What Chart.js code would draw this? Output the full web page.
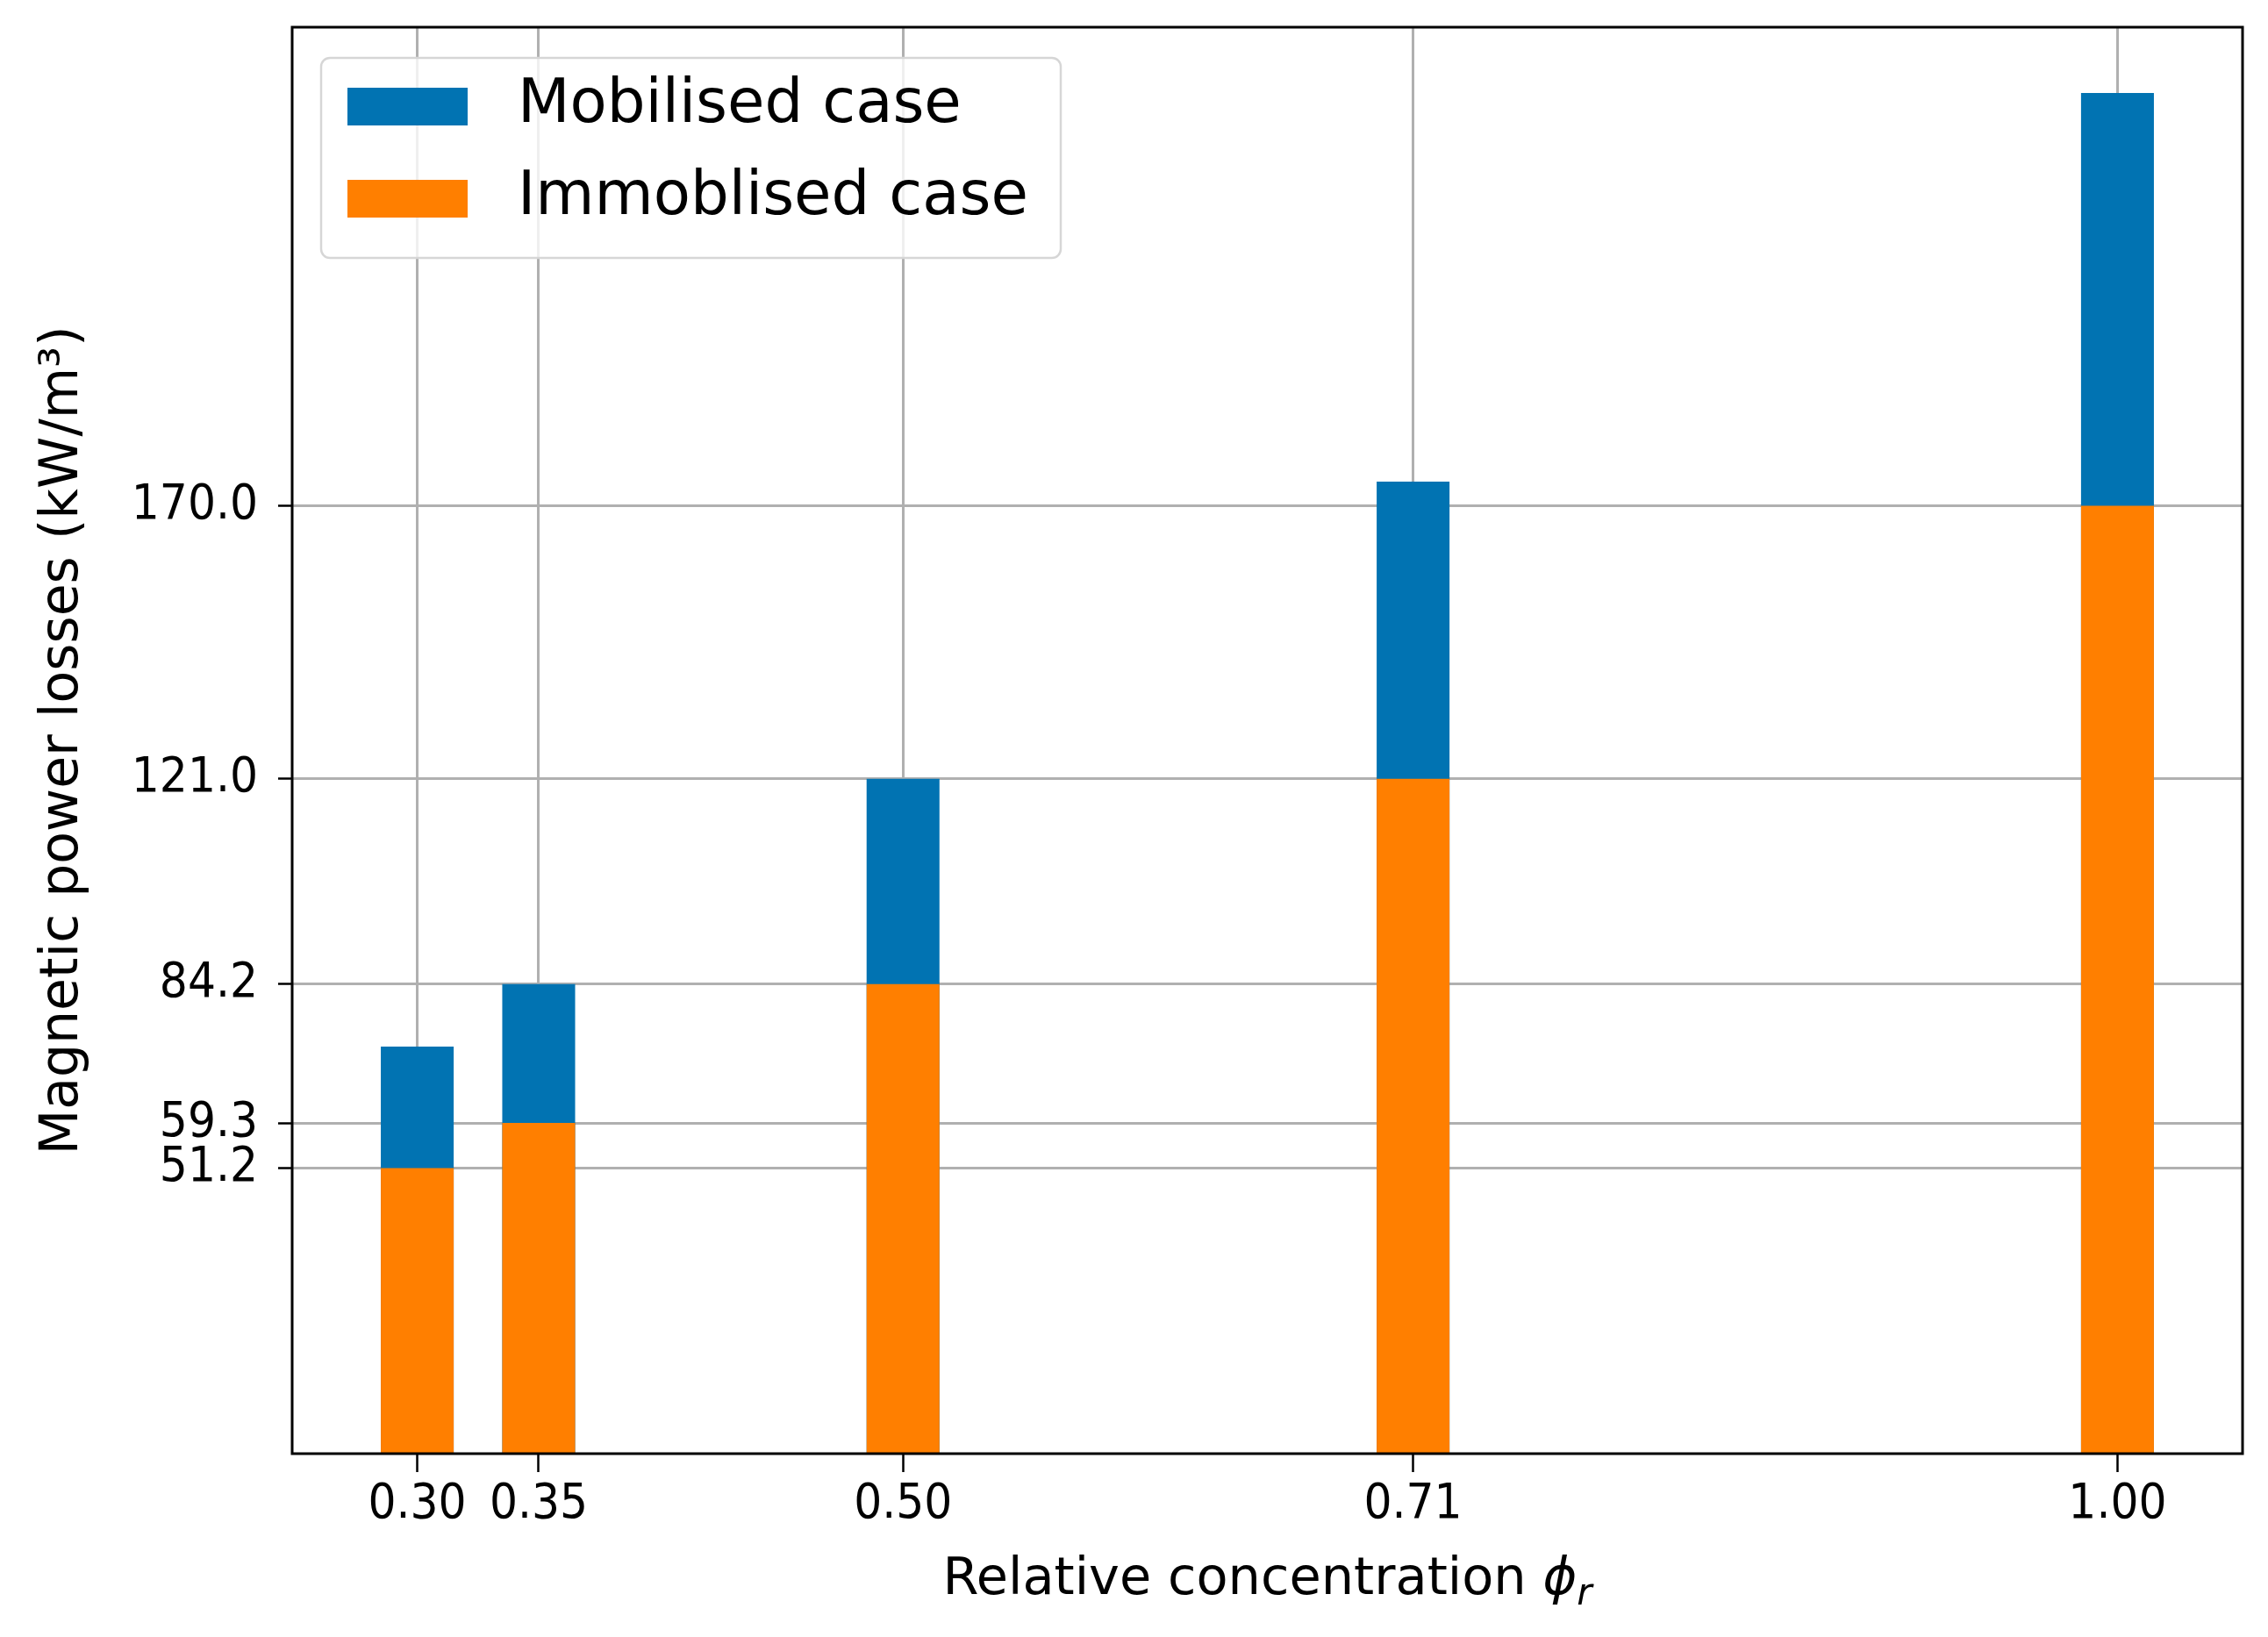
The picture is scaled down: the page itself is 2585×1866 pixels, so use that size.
<!DOCTYPE html>
<html>
<head>
<meta charset="utf-8">
<script src="https://cdn.jsdelivr.net/npm/chart.js@4.4.1/dist/chart.umd.min.js"></script>
<style>
  html, body { margin: 0; padding: 0; background: #ffffff; overflow: hidden; }
  #wrap { width: 2585px; height: 1866px; position: relative; }
</style>
</head>
<body>
<div id="wrap"><canvas id="lossChart"></canvas></div>
<script>
// Data block
const concentrations = [0.30, 0.35, 0.50, 0.71, 1.00];
const mobilisedLosses = [73.0, 84.2, 121.0, 174.3, 244.0];
const immobilisedLosses = [51.2, 59.3, 84.2, 121.0, 170.0];
const xTickValues = [0.30, 0.35, 0.50, 0.71, 1.00];
const yTickValues = [51.2, 59.3, 84.2, 121.0, 170.0];

Chart.defaults.font.family = "'DejaVu Sans', sans-serif";
Chart.defaults.color = '#000000';

const tickFont = "'DejaVu Sans Condensed', 'DejaVu Sans', sans-serif";
const toPoints = (xs, ys) => xs.map((x, i) => ({x: x, y: ys[i]}));

// Setup block
const lossData = {
    datasets: [{
        label: 'Mobilised case',
        backgroundColor: '#0173b2',
        data: toPoints(concentrations, mobilisedLosses),
        order: 2,
        grouped: false,
        categoryPercentage: 0.6,
        barPercentage: 1.0
    }, {
        label: 'Immoblised case',
        backgroundColor: '#ff7f00',
        data: toPoints(concentrations, immobilisedLosses),
        order: 1,
        grouped: false,
        categoryPercentage: 0.6,
        barPercentage: 1.0
    }]
};

// Legend inside the axes, matplotlib style, plus the axes frame
const insideLegend = {
    id: 'insideLegend',
    afterDraw(chart) {
        const ctx = chart.ctx;
        const area = chart.chartArea;
        ctx.save();
        // frame
        ctx.strokeStyle = '#000000';
        ctx.lineWidth = 3;
        ctx.strokeRect(area.left, area.top, area.right - area.left, area.bottom - area.top);

        // legend box
        const bx = area.left + 33, by = area.top + 35, bw = 843, bh = 228, r = 10;
        ctx.beginPath();
        ctx.roundRect(bx, by, bw, bh, r);
        ctx.fillStyle = 'rgba(255,255,255,0.8)';
        ctx.fill();
        ctx.strokeStyle = '#d6d6d6';
        ctx.lineWidth = 2.5;
        ctx.stroke();

        ctx.font = "69px 'DejaVu Sans'";
        ctx.textBaseline = 'middle';
        ctx.textAlign = 'left';
        chart.data.datasets.forEach((ds, i) => {
            const rowY = by + 55 + i * 105;
            ctx.fillStyle = ds.backgroundColor;
            ctx.fillRect(bx + 30, rowY - 21, 137, 43);
            ctx.fillStyle = '#000000';
            ctx.fillText(ds.label, bx + 224, rowY);
        });
        ctx.restore();
    }
};

// x axis title with italic phi and subscript r
const xTitleParts = [
    {text: 'Relative concentration ', font: "59px 'DejaVu Sans'", dy: 0},
    {text: 'ϕ', font: "italic 59px 'DejaVu Sans'", dy: 0},
    {text: 'r', font: "italic 42px 'DejaVu Sans'", dy: 12}
];
const xAxisTitle = {
    id: 'xAxisTitle',
    afterDraw(chart) {
        const ctx = chart.ctx;
        const area = chart.chartArea;
        ctx.save();
        ctx.fillStyle = '#000000';
        ctx.textBaseline = 'alphabetic';
        ctx.textAlign = 'left';
        let total = 0;
        xTitleParts.forEach(p => { ctx.font = p.font; p.w = ctx.measureText(p.text).width; total += p.w; });
        let x = (area.left + area.right) / 2 - total / 2;
        const baseY = chart.height - 49;
        xTitleParts.forEach(p => {
            ctx.font = p.font;
            ctx.fillText(p.text, x, baseY + p.dy);
            x += p.w;
        });
        ctx.restore();
    }
};

// Config block
const lossConfig = {
    type: 'bar',
    data: lossData,
    options: {
        responsive: true,
        maintainAspectRatio: false,
        devicePixelRatio: 1,
        animation: false,
        layout: {
            padding: {left: 0, top: 31, right: 29, bottom: 0}
        },
        plugins: {
            legend: { display: false },
            tooltip: { enabled: false }
        },
        scales: {
            x: {
                type: 'linear',
                min: 0.2485,
                max: 1.0515,
                offset: false,
                z: 1,
                afterBuildTicks: (scale) => {
                    scale.ticks = xTickValues.map(v => ({value: v}));
                },
                afterFit: (scale) => {
                    scale.height = 209;
                    scale.paddingLeft = 0;
                    scale.paddingRight = 0;
                },
                ticks: {
                    autoSkip: false,
                    maxRotation: 0,
                    padding: 4,
                    font: { family: tickFont, size: 56 },
                    callback: (v) => Number(v).toFixed(2)
                },
                grid: {
                    offset: false,
                    color: '#b0b0b0',
                    lineWidth: 3,
                    tickColor: '#000000',
                    tickWidth: 2.5,
                    tickLength: 21
                },
                border: { display: false },
                title: { display: false }
            },
            y: {
                type: 'linear',
                min: 0,
                max: 255.8,
                z: 1,
                afterBuildTicks: (scale) => {
                    scale.ticks = yTickValues.map(v => ({value: v}));
                },
                afterFit: (scale) => {
                    scale.width = 333;
                    scale.paddingTop = 0;
                    scale.paddingBottom = 0;
                },
                ticks: {
                    autoSkip: false,
                    padding: 23,
                    font: { family: tickFont, size: 56 },
                    callback: (v) => Number(v).toFixed(1)
                },
                grid: {
                    color: '#b0b0b0',
                    lineWidth: 3,
                    tickColor: '#000000',
                    tickWidth: 2.5,
                    tickLength: 16
                },
                border: { display: false },
                title: {
                    display: true,
                    text: 'Magnetic power losses (kW/m³)',
                    font: { size: 60 },
                    padding: {top: 36, bottom: 0}
                }
            }
        }
    },
    plugins: [insideLegend, xAxisTitle]
};

// render / init block
const lossChart = new Chart(
    document.getElementById('lossChart'),
    lossConfig
);
</script>
</body>
</html>
